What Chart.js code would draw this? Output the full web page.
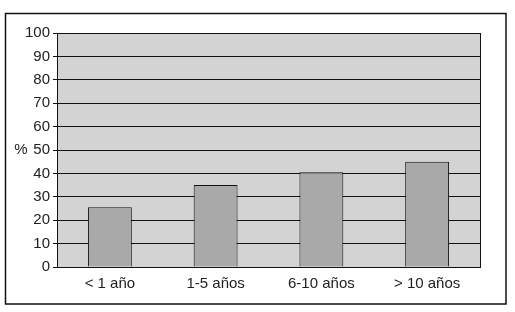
<!DOCTYPE html>
<html>
<head>
<meta charset="utf-8">
<script src="https://cdn.jsdelivr.net/npm/chart.js@4"></script>
<style>
  html, body { margin: 0; padding: 0; background: #fff; }
  #wrap { width: 515px; height: 312px; }
</style>
</head>
<body>
<div id="wrap"><canvas id="barChart1"></canvas></div>
<script>
const categories = ['< 1 año', '1-5 años', '6-10 años', '> 10 años'];
const values = [25.5, 35, 40.5, 45];
const yTicks = [0, 10, 20, 30, 40, 50, 60, 70, 80, 90, 100];
const yLabel = '%';

const FONT = '"Liberation Sans", Arial, Helvetica, sans-serif';

// frame around the whole figure, grey plot area and the % label
const framePlugin = {
  id: 'frame',
  beforeDraw(chart) {
    const ctx = chart.ctx;
    const a = chart.chartArea;
    ctx.save();
    ctx.fillStyle = '#fff';
    ctx.fillRect(0, 0, chart.width, chart.height);
    ctx.strokeStyle = '#111';
    ctx.lineWidth = 1.5;
    ctx.strokeRect(5.5, 13.5, 500.5, 290.5);
    ctx.fillStyle = '#d3d3d3';
    ctx.fillRect(a.left, a.top, a.right - a.left, a.bottom - a.top);
    ctx.restore();
  },
  afterDraw(chart) {
    const ctx = chart.ctx;
    const a = chart.chartArea;
    ctx.save();
    ctx.strokeStyle = '#111';
    ctx.lineWidth = 1;
    ctx.beginPath();
    ctx.moveTo(a.right + 0.5, a.top);
    ctx.lineTo(a.right + 0.5, a.bottom);
    ctx.stroke();
    ctx.fillStyle = '#222';
    ctx.font = '15px ' + FONT;
    ctx.textAlign = 'center';
    ctx.textBaseline = 'middle';
    ctx.fillText(yLabel, 21, chart.scales.y.getPixelForValue(50));
    ctx.restore();
  }
};

Chart.defaults.color = '#222';
Chart.defaults.font.family = FONT;
Chart.defaults.font.size = 15;

new Chart(document.getElementById('barChart1'), {
  type: 'bar',
  data: {
    labels: categories,
    datasets: [{
      data: values,
      backgroundColor: '#a9a9a9',
      borderColor: '#111',
      borderWidth: 1,
      categoryPercentage: 1,
      barPercentage: 0.415
    }]
  },
  options: {
    responsive: true,
    maintainAspectRatio: false,
    animation: false,
    layout: { padding: { left: 0, top: 33, right: 35, bottom: 0 } },
    plugins: { legend: { display: false }, tooltip: { enabled: false } },
    scales: {
      x: {
        grid: { display: false, drawTicks: false },
        border: { display: true, color: '#111', width: 1 },
        ticks: { padding: 8, maxRotation: 0 },
        afterFit(scale) { scale.height = 45; }
      },
      y: {
        min: 0,
        max: 100,
        afterBuildTicks(scale) { scale.ticks = yTicks.map(v => ({ value: v })); },
        grid: { color: '#111', lineWidth: 1, tickLength: 4, drawTicks: true },
        border: { display: true, color: '#111', width: 1 },
        ticks: { padding: 3 },
        afterFit(scale) { scale.width = 57; }
      }
    }
  },
  plugins: [framePlugin]
});
</script>
</body>
</html>
